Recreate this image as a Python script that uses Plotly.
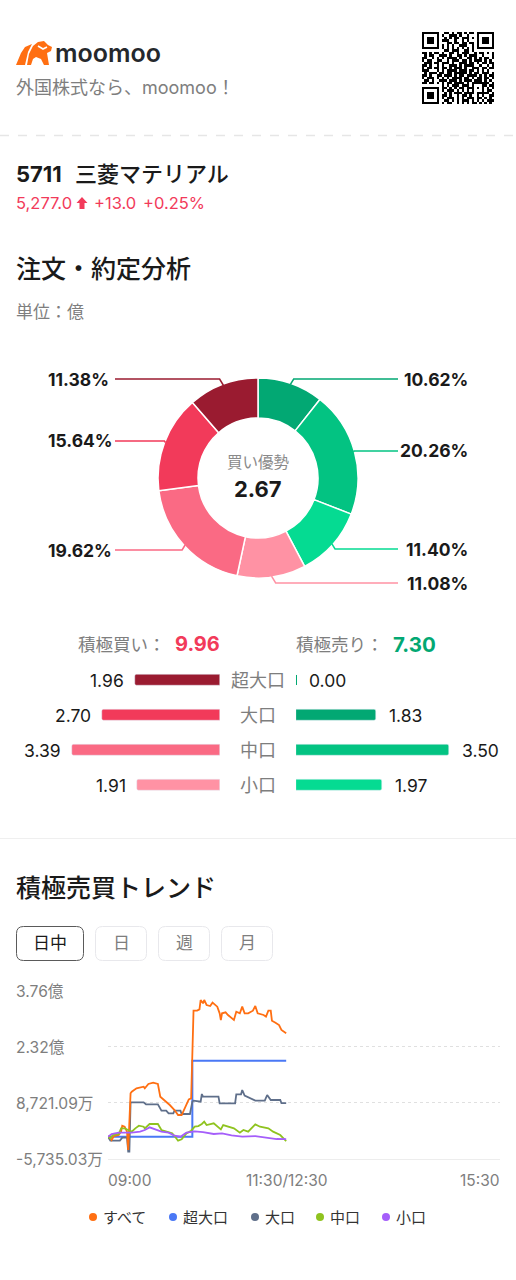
import numpy as np
import plotly.graph_objects as go

W, H = 516, 1280
FONT = "Inter, 'Noto Sans CJK JP', sans-serif"

# donut, clockwise from 12 o'clock
pie_labels = ['大口売り', '中口売り', '小口売り', '小口買い', '中口買い', '大口買い', '超大口買い']
pie_values = [10.62, 20.26, 11.40, 11.08, 19.62, 15.64, 11.38]
pie_colors = ['#02A873', '#03C382', '#05DB92', '#FF92A4', '#FA6A84', '#F23A5A', '#9A1B30']

# order size bars, in 億
sizes = ['超大口', '大口', '中口', '小口']
buy_values = [1.96, 2.70, 3.39, 1.91]
sell_values = [0.00, 1.83, 3.50, 1.97]
buy_colors = ['#9A1B30', '#F23A5A', '#FA6A84', '#FF92A4']
sell_colors = ['#02A873', '#02A873', '#03C382', '#05DB92']

# intraday trend, minutes of trading since 09:00 (150 = 11:30/12:30), values in 億
all_t = [0, 1, 3, 5, 9, 11, 12, 14, 16, 17, 19, 20, 24, 30, 31, 34, 38, 42, 44, 48, 52, 56, 59, 62, 65, 68, 70,
         71, 72, 75, 77, 78, 80, 81, 83, 86, 88, 92, 94, 95, 96, 99, 101, 106, 108, 111, 113, 115, 118, 122, 124,
         126, 131, 133, 135, 137, 138, 141, 144, 146, 150]
all_v = [0.00, 0.002, -0.084, 0.019, 0.045, 0.131, 0.286, 0.26, 0.131, -0.342, 1.12, 1.163, 1.249, 1.292, 1.249,
         1.361, 1.395, 1.361, 1.034, 0.931, 0.819, 0.69, 0.561, 0.561, 0.776, 0.965, 0.991,
         2.324, 3.253, 3.253, 3.287, 3.528, 3.442, 3.528, 3.399, 3.373, 3.459, 3.356, 3.184, 3.012, 3.184, 3.21,
         3.141, 3.012, 3.227, 3.184, 3.356, 3.184, 3.184, 3.253, 3.373, 3.184, 3.141, 3.098, 3.253, 3.253, 2.995,
         2.943, 2.883, 2.754, 2.67]
xl_t = [0, 71, 71, 150]
xl_v = [0.00, 0.00, 1.96, 1.96]
lg_t = [0, 2, 10, 12, 16, 17, 18, 19, 30, 32, 42, 45, 49, 51, 55, 56, 61, 62, 69, 71, 72, 78, 79, 80, 93, 94, 107,
        108, 112, 113, 115, 117, 124, 132, 134, 137, 145, 146, 150]
lg_v = [0.00, -0.101, -0.101, -0.024, -0.024, -0.385, -0.385, 0.888, 0.888, 0.836, 0.836, 0.673, 0.673, 0.604,
        0.604, 0.673, 0.673, 0.587, 0.587, 0.905, 0.931, 0.905, 1.103, 1.034, 1.034, 0.862, 0.862, 1.094, 1.094,
        1.206, 1.06, 1.034, 0.931, 0.931, 1.077, 0.948, 0.948, 0.87, 0.87]
md_t = [0, 2, 4, 9, 11, 14, 17, 20, 23, 26, 30, 31, 35, 42, 45, 49, 54, 56, 59, 62, 66, 70, 73, 76, 79, 81, 83, 89,
        92, 95, 97, 101, 106, 111, 114, 118, 124, 128, 135, 139, 145, 150]
md_v = [0.00, -0.041, 0.045, 0.071, 0.217, 0.217, 0.174, 0.131, 0.217, 0.286, 0.26, 0.217, 0.329, 0.329, 0.174,
        0.131, 0.088, 0.019, -0.101, -0.067, 0.088, 0.157, 0.26, 0.277, 0.329, 0.389, 0.303, 0.346, 0.277, 0.191,
        0.303, 0.26, 0.217, 0.105, 0.174, 0.131, 0.32, 0.26, 0.217, 0.131, 0.045, -0.11]
sm_t = [0, 3, 9, 14, 20, 27, 31, 35, 40, 45, 51, 56, 61, 66, 73, 80, 89, 96, 104, 113, 124, 134, 142, 150]
sm_v = [0.00, 0.071, 0.105, 0.105, 0.105, 0.131, 0.174, 0.243, 0.191, 0.131, 0.105, 0.028, 0.002, 0.105, 0.14,
        0.122, 0.071, 0.088, 0.037, 0.002, 0.019, -0.015, -0.058, -0.06]

trend_names = ['すべて', '超大口', '大口', '中口', '小口']
trend_colors = ['#FF6F12', '#4A78F5', '#5F6F8A', '#8FC31F', '#A55EFA']
trend_ticks = [3.76, 2.32, 0.8721, -0.5735]
trend_tick_labels = ['3.76億', '2.32億', '8,721.09万', '-5,735.03万']

periods = ['日中', '日', '週', '月']

qr_rows = [
    '#######..##.#.##.#.##.#######',
    '#.....#.#..###.#..#...#.....#',
    '#.###.#..#.#.##.###.#.#.###.#',
    '#.###.#.###..#..#.#...#.###.#',
    '#.###.#...##.##.##.##.#.###.#',
    '#.....#.#.#.#..###..#.#.....#',
    '#######.#.#.#.#.#.#.#.#######',
    '.........##.###..##.#........',
    '##.#.##.#..##.#.###..#.##.#.#',
    '.#.##..###.#..##.#.###..#...#',
    '##..#.#.#.####.#..##.#.#.##.#',
    '#.##..##..#.###.##.#.###.#.#.',
    '.###.##.###.#..###.##.#.##.##',
    '##.#..#.#..###.#.####..#..#.#',
    '#.##.##.##.#.###.#..###.##.##',
    '###...#.#.####.###.##.#.#.#..',
    '.#.###.##.##.#####.#.##.###.#',
    '##.#..##.###.#.##.####.#.#.##',
    '#.###.#.#.#.####.##.#.##.##.#',
    '.##.#..###.###.#.###.###.#.#.',
    '##.##.#.#.##.####.#.#######.#',
    '........#.#.###.###.#...##.##',
    '#######.##.#.#.##.###.#.#.#.#',
    '#.....#.#.###.#.#.#.#...#.##.',
    '#.###.#..#.#.###.####.#####.#',
    '#.###.#.##.#..#.##.#..#.#..##',
    '#.###.#.#.###.#.#.###.##.#.#.',
    '#.....#..##.#.#.###.#.#.#.###',
    '#######.#.##..#.#.#.##.#.#.#.',
]


def fx(x):
    return x / W


def fy(y):
    return 1 - y / H


fig = go.Figure()

# donut
fig.add_trace(go.Pie(
    labels=pie_labels, values=pie_values, sort=False, direction='clockwise', rotation=0,
    hole=0.6, textinfo='none', hoverinfo='skip', showlegend=False,
    marker=dict(colors=pie_colors, line=dict(color='white', width=1.5)),
    domain=dict(x=[fx(158), fx(358)], y=[fy(578), fy(378)]),
))

# buy / sell bars
fig.add_trace(go.Bar(y=sizes, x=buy_values, orientation='h', width=0.29, xaxis='x2', yaxis='y2',
                     marker=dict(color=buy_colors, cornerradius=1.5), hoverinfo='skip', showlegend=False))
fig.add_trace(go.Bar(y=sizes, x=sell_values, orientation='h', width=0.29, xaxis='x3', yaxis='y3',
                     marker=dict(color=sell_colors, cornerradius=1.5), hoverinfo='skip', showlegend=False))

# trend lines
series = [(all_t, all_v), (xl_t, xl_v), (lg_t, lg_v), (md_t, md_v), (sm_t, sm_v)]
for i in [1, 2, 0, 3, 4]:
    t, v = series[i]
    fig.add_trace(go.Scatter(x=t, y=v, mode='lines', name=trend_names[i], showlegend=False, hoverinfo='skip',
                             line=dict(color=trend_colors[i], width=2 if i == 1 else 1.8)))

# qr code
fig.add_trace(go.Heatmap(z=[[1 if c == '#' else 0 for c in r] for r in qr_rows], xaxis='x4', yaxis='y4',
                         colorscale=[[0, '#ffffff'], [1, '#000000']], showscale=False, hoverinfo='skip'))

shapes = []
notes = []
PAD = {'left': -2, 'center': 0, 'right': 2}


def note(text, x, y, size, color='#1a1a1a', anchor='left', weight=400):
    notes.append(dict(text=text, x=fx(x), y=fy(y), xref='paper', yref='paper', xanchor=anchor, yanchor='middle',
                      xshift=PAD[anchor], showarrow=False,
                      font=dict(family=FONT, size=size, color=color, weight=weight)))


def path(d, fill=None, line=None, width=1, dash=None):
    shapes.append(dict(type='path', path=d, xref='paper', yref='paper', fillcolor=fill, layer='above',
                       line=dict(color=line, width=width if line else 0, dash=dash)))


def pts(points, close=False):
    s = 'M' + ' L'.join(f'{fx(x):.5f},{fy(y):.5f}' for x, y in points)
    return s + (' Z' if close else '')


def rrect(x0, y0, x1, y1, r):
    k = [(x0 + r, y0), (x1 - r, y0), (x1, y0 + r), (x1, y1 - r), (x1 - r, y1), (x0 + r, y1), (x0, y1 - r), (x0, y0 + r)]
    p = [(fx(a), fy(b)) for a, b in k]
    c = [(fx(x1), fy(y0)), (fx(x1), fy(y1)), (fx(x0), fy(y1)), (fx(x0), fy(y0))]
    return (f'M{p[0][0]},{p[0][1]} L{p[1][0]},{p[1][1]} Q{c[0][0]},{c[0][1]} {p[2][0]},{p[2][1]} '
            f'L{p[3][0]},{p[3][1]} Q{c[1][0]},{c[1][1]} {p[4][0]},{p[4][1]} '
            f'L{p[5][0]},{p[5][1]} Q{c[2][0]},{c[2][1]} {p[6][0]},{p[6][1]} '
            f'L{p[7][0]},{p[7][1]} Q{c[3][0]},{c[3][1]} {p[0][0]},{p[0][1]} Z')


# header
path(pts([(16, 65), (21, 53), (25, 47), (32, 44), (28, 52), (25, 65)], True), fill='#FF6F12')
path(pts([(27, 65), (29, 54), (33, 46), (38, 42), (44, 41), (48, 45), (52, 47), (51, 51), (47, 53), (49, 65),
          (44, 65), (41, 59), (36, 57), (33, 59), (31, 65)], True), fill='#FF6F12')
path(pts([(38, 46), (43, 49), (47, 47)]), line='white', width=1.6)
note('moomoo', 55, 53, 25, '#25282C', weight=600)
note('外国株式なら、moomoo！', 16, 87, 18, '#7E7E7E')
shapes.append(dict(type='line', x0=0, x1=1, y0=fy(135.5), y1=fy(135.5), xref='paper', yref='paper',
                   line=dict(color='#E6E6E6', width=1.5, dash='dash')))

note('<b>5711</b>', 16, 174, 22)
note('三菱マテリアル', 75, 174, 22, weight=500)
note('5,277.0', 16, 203, 16.5, '#F23A5A')
path(pts([(82, 197), (87.5, 203), (84.5, 203), (84.5, 209), (79.5, 209), (79.5, 203), (76.5, 203)], True), fill='#F23A5A')
note('+13.0', 94, 203, 16.5, '#F23A5A')
note('+0.25%', 143, 203, 16.5, '#F23A5A')
note('注文・約定分析', 16, 269, 25, weight=500)
note('単位：億', 16, 312, 17, '#7E7E7E')

# leader lines and percent labels, anchored on each slice's mid angle
cx, cy, R = 258, 478, 99
right_y = [379, 451, 549, 583]
left_y = [550, 441, 379]
cum = np.cumsum([0] + pie_values)
for i, val in enumerate(pie_values):
    a = np.radians((cum[i] + val / 2) * 3.6)
    ax, ay = cx + R * np.sin(a), cy - R * np.cos(a)
    if i < 4:
        ly = right_y[i]
        bend = ax + abs(ly - ay) * 0.6
        path(pts([(ax, ay), (bend, ly), (398, ly)]), line=pie_colors[i], width=1.5)
        note(f'{val:.2f}%', 468, ly, 17.5, '#1a1a1a', 'right', 700)
    else:
        ly = left_y[i - 4]
        bend = ax - abs(ly - ay) * 0.6
        path(pts([(ax, ay), (bend, ly), (115, ly)]), line=pie_colors[i], width=1.5)
        note(f'{val:.2f}%', 48, ly, 17.5, '#1a1a1a', 'left', 700)

note('買い優勢', 258, 462, 15.5, '#8A8A8A', 'center')
note('2.67', 258, 489, 22, '#1a1a1a', 'center', 700)

# bar section
note('積極買い：', 78, 644, 17.5, '#7E7E7E')
note(f'{sum(buy_values):.2f}', 175, 644, 20, '#F23A5A', weight=700)
note('積極売り：', 296, 644, 17.5, '#7E7E7E')
note(f'{sum(sell_values):.2f}', 393, 644, 20.5, '#02A873', weight=700)

# the zero bar has no width of its own, the reference still shows a sliver
path(pts([(296, 675), (297, 675), (297, 685), (296, 685)], True), fill=sell_colors[0])

for i, s in enumerate(sizes):
    notes.append(dict(text=s, x=fx(258), xref='paper', y=s, yref='y2', xanchor='center', yanchor='middle',
                      showarrow=False, font=dict(family=FONT, size=18, color='#7E7E7E')))
    notes.append(dict(text=f'{buy_values[i]:.2f}', x=buy_values[i], xref='x2', y=s, yref='y2', xanchor='right',
                      yanchor='middle', xshift=-9, showarrow=False, font=dict(family=FONT, size=17.5, color='#1a1a1a')))
    notes.append(dict(text=f'{sell_values[i]:.2f}', x=sell_values[i], xref='x3', y=s, yref='y3', xanchor='left',
                      yanchor='middle', xshift=11, showarrow=False, font=dict(family=FONT, size=17.5, color='#1a1a1a')))

shapes.append(dict(type='line', x0=0, x1=1, y0=fy(838.5), y1=fy(838.5), xref='paper', yref='paper',
                   line=dict(color='#EFEFEF', width=1)))

# trend section
note('積極売買トレンド', 16, 888, 25, weight=500)
btn_x = [(16, 84), (95, 147), (158, 210), (221, 273)]
for i, p in enumerate(periods):
    x0, x1 = btn_x[i]
    path(rrect(x0 + .5, 926.5, x1 - .5, 960.5, 7), line='#5A5A5A' if i == 0 else '#E8E8EC', width=1)
    note(p, (x0 + x1) / 2, 943, 17, '#1a1a1a' if i == 0 else '#7E7E7E', 'center')

for v, lab in zip(trend_ticks, trend_tick_labels):
    notes.append(dict(text=lab, x=fx(16), xref='paper', y=v, yref='y', xanchor='left', yanchor='middle', xshift=-2,
                      yshift=-0.5, showarrow=False, font=dict(family=FONT, size=15.6, color='#7E7E7E')))

note('09:00', 108, 1180, 15.5, '#7E7E7E', 'left')
note('11:30/12:30', 287, 1180, 15.5, '#7E7E7E', 'center')
note('15:30', 500, 1180, 15.5, '#7E7E7E', 'right')

dot_x = [93, 173, 255, 320, 386]
for name, col, dx in zip(trend_names, trend_colors, dot_x):
    shapes.append(dict(type='circle', xref='paper', yref='paper', x0=fx(dx - 4), x1=fx(dx + 4), y0=fy(1221), y1=fy(1213),
                       fillcolor=col, line=dict(width=0)))
    note(name, dx + 10, 1217, 15, '#333333')

hidden = dict(visible=False, fixedrange=True)
fig.update_layout(
    width=W, height=H, margin=dict(l=0, r=0, t=0, b=0), paper_bgcolor='white', plot_bgcolor='white',
    showlegend=False, shapes=shapes, annotations=notes, bargap=0,
    xaxis=dict(domain=[fx(108), fx(500)], range=[0, 330], showgrid=False, zeroline=False, showticklabels=False,
               ticks='', showline=True, linecolor='#EDEDED', linewidth=1, fixedrange=True),
    yaxis=dict(domain=[fy(1159), fy(991)], range=[-0.5735, 3.76], tickvals=trend_ticks, showticklabels=False, ticks='',
               showgrid=True, gridcolor='#E0E0E0', griddash='dot', gridwidth=1, zeroline=False, fixedrange=True),
    xaxis2=dict(domain=[0, fx(220)], range=[220 / 43.6, 0], anchor='y2', **hidden),
    yaxis2=dict(domain=[fy(802.5), fy(662.5)], range=[3.5, -0.5], type='category', anchor='x2', **hidden),
    xaxis3=dict(domain=[fx(296), 1], range=[0, 220 / 43.6], anchor='y3', **hidden),
    yaxis3=dict(domain=[fy(802.5), fy(662.5)], range=[3.5, -0.5], type='category', anchor='x3', **hidden),
    xaxis4=dict(domain=[fx(422), fx(494)], anchor='y4', **hidden),
    yaxis4=dict(domain=[fy(104), fy(32)], autorange='reversed', anchor='x4', **hidden),
)

fig.write_html("out.html", config=dict(displayModeBar=False),
               post_script="document.body.style.margin='0';")
